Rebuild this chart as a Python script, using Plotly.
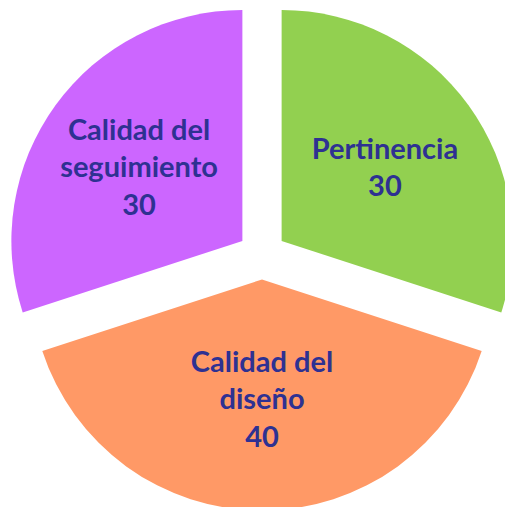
import plotly.graph_objects as go

labels = ["Pertinencia", "Calidad del<br>diseño", "Calidad del<br>seguimiento"]
values = [30, 40, 30]
colors = ["#92D050", "#FF9966", "#CC66FF"]
pulls = [0.105, 0.105, 0.105]

W, H = 530, 530
fig = go.Figure(go.Pie(
    labels=labels,
    values=values,
    sort=False,
    direction="clockwise",
    rotation=0,
    pull=pulls,
    marker=dict(colors=colors, line=dict(width=0)),
    textinfo="none",
    texttemplate="<b>%{label}<br>%{value}</b>",
    textposition="inside",
    insidetextorientation="horizontal",
    textfont=dict(family="Lato", size=29, color="#2E3192"),
    hoverinfo="skip",
    domain=dict(x=[0.01274, 0.97594], y=[0.03679, 1.0]),
))
fig.update_layout(
    width=W, height=H,
    margin=dict(l=0, r=0, t=0, b=0),
    showlegend=False,
    paper_bgcolor="white",
    plot_bgcolor="white",
)
fig.write_html(
    "out.html",
    config={"displayModeBar": False},
    post_script="document.body.style.margin='0px';document.body.style.overflow='hidden';",
)
